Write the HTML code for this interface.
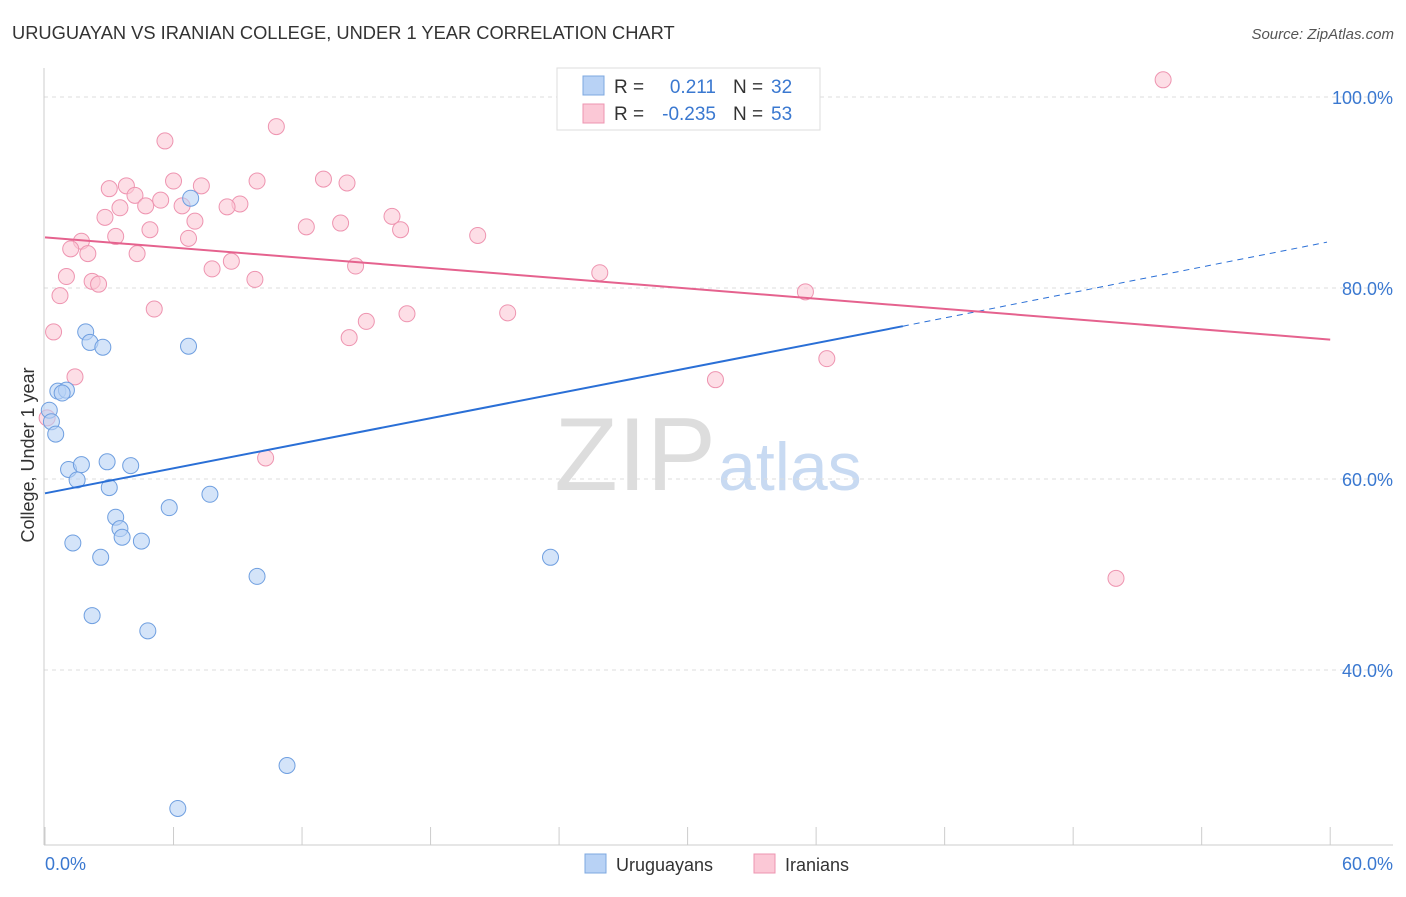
<!DOCTYPE html>
<html><head><meta charset="utf-8"><style>
body{margin:0;background:#fff;font-family:"Liberation Sans",sans-serif}
svg text{font-family:"Liberation Sans",sans-serif}
</style></head><body>
<svg id="c" width="1406" height="892" xmlns="http://www.w3.org/2000/svg">
<text x="12" y="39" font-size="18.3" fill="#333">URUGUAYAN VS IRANIAN COLLEGE, UNDER 1 YEAR CORRELATION CHART</text>
<text x="1394" y="39" font-size="15" fill="#555" font-style="italic" text-anchor="end">Source: ZipAtlas.com</text>
<text x="716" y="490" font-size="104" fill="#ddd" text-anchor="end" font-family="Liberation Serif">ZIP</text>
<text x="718" y="490" font-size="68" fill="#c8daf2">atlas</text>
<g id="grid"></g>
<line x1="44" y1="68" x2="44" y2="845" stroke="#ccc"/>
<line x1="44" y1="845" x2="1393" y2="845" stroke="#ccc"/>
<text x="34" y="455" font-size="18" fill="#333" text-anchor="middle" transform="rotate(-90 34 455)">College, Under 1 year</text>
<text x="45" y="870" font-size="18" fill="#3a78d0">0.0%</text>
<text x="1393" y="870" font-size="18" fill="#3a78d0" text-anchor="end">60.0%</text>
<g id="pts"></g>
<g id="lines"></g>
<g>
<rect x="557" y="68" width="263" height="62" fill="#fff" stroke="#ddd"/>
<rect x="583" y="76" width="21" height="19" fill="#b8d2f5" stroke="#7ea8e0"/>
<rect x="583" y="104" width="21" height="19" fill="#fbc8d6" stroke="#ee94b0"/>
<text x="614" y="93" font-size="19" fill="#333">R =</text>
<text x="716" y="93" font-size="19" fill="#3a78d0" text-anchor="end">0.211</text>
<text x="733" y="93" font-size="19" fill="#333">N =</text>
<text x="771" y="93" font-size="19" fill="#3a78d0">32</text>
<text x="614" y="120" font-size="19" fill="#333">R =</text>
<text x="716" y="120" font-size="19" fill="#3a78d0" text-anchor="end">-0.235</text>
<text x="733" y="120" font-size="19" fill="#333">N =</text>
<text x="771" y="120" font-size="19" fill="#3a78d0">53</text>
</g>
<g>
<rect x="585" y="854" width="21" height="19" fill="#b8d2f5" stroke="#7ea8e0"/>
<text x="616" y="871" font-size="18" fill="#333">Uruguayans</text>
<rect x="754" y="854" width="21" height="19" fill="#fbc8d6" stroke="#ee94b0"/>
<text x="785" y="871" font-size="18" fill="#333">Iranians</text>
</g>
</svg>
<script>
const yTicks=[100,80,60,40];
const bluePts=[[35.3,101.8],[6.8,89.4],[1.9,75.4],[2.1,74.3],[2.7,73.8],[6.7,73.9],[0.6,69.2],[1.0,69.3],[0.8,69.0],[0.2,67.2],[0.3,66.0],[0.5,64.7],[1.1,61.0],[1.7,61.5],[2.9,61.8],[4.0,61.4],[1.5,59.9],[3.0,59.1],[7.7,58.4],[5.8,57.0],[3.3,56.0],[3.5,54.8],[3.6,53.9],[4.5,53.5],[1.3,53.3],[2.6,51.8],[23.6,51.8],[9.9,49.8],[2.2,45.7],[4.8,44.1],[11.3,30.0],[6.2,25.5]];
const pinkPts=[[52.2,101.8],[10.8,96.9],[5.6,95.4],[13.0,91.4],[14.1,91.0],[6.0,91.2],[7.3,90.7],[9.9,91.2],[3.8,90.7],[3.0,90.4],[4.2,89.7],[5.4,89.2],[9.1,88.8],[8.5,88.5],[6.4,88.6],[4.7,88.6],[3.5,88.4],[2.8,87.4],[7.0,87.0],[16.2,87.5],[12.2,86.4],[13.8,86.8],[16.6,86.1],[4.9,86.1],[3.3,85.4],[6.7,85.2],[20.2,85.5],[1.7,84.9],[1.2,84.1],[2.0,83.6],[4.3,83.6],[8.7,82.8],[7.8,82.0],[14.5,82.3],[1.0,81.2],[2.2,80.7],[2.5,80.4],[9.8,80.9],[25.9,81.6],[0.7,79.2],[35.5,79.6],[5.1,77.8],[16.9,77.3],[21.6,77.4],[15.0,76.5],[0.4,75.4],[14.2,74.8],[36.5,72.6],[1.4,70.7],[31.3,70.4],[0.1,66.4],[10.3,62.2],[50.0,49.6]];
const blueLine=[[0,58.5],[40.05,76.0],[59.85,84.8]];
const pinkLine=[[0,85.3],[60,74.6]];
const X=v=>45+v*21.42, Y=v=>97+(100-v)*9.55;
const NS="http://www.w3.org/2000/svg";
const mk=(t,a,p)=>{const e=document.createElementNS(NS,t);for(const k in a)e.setAttribute(k,a[k]);document.getElementById(p).appendChild(e);return e;};
yTicks.forEach(v=>{
 const l=mk('line',{x1:44,x2:1393,y1:Y(v),y2:Y(v),stroke:'#ddd','stroke-dasharray':'4 4'},'grid');
 
 
 const t=mk('text',{x:1393,y:Y(v)+7,'font-size':18,fill:'#3a78d0','text-anchor':'end'},'grid');
 t.textContent=v.toFixed(1)+'%';
 
 
});
for(let i=0;i<=10;i++){const l=mk('line',{x1:X(i*6),x2:X(i*6),y1:827,y2:845,stroke:'#ccc'},'grid');
 
 }
pinkPts.forEach(p=>{const c=mk('circle',{cx:X(p[0]),cy:Y(p[1]),r:8,fill:'#fbc8d6','fill-opacity':0.6,stroke:'#ee94b0'},'pts');
 
 });
bluePts.forEach(p=>{const c=mk('circle',{cx:X(p[0]),cy:Y(p[1]),r:8,fill:'#b8d2f5','fill-opacity':0.6,stroke:'#6f9fe0'},'pts');
 
 });
let l=mk('line',{x1:X(blueLine[0][0]),y1:Y(blueLine[0][1]),x2:X(blueLine[1][0]),y2:Y(blueLine[1][1]),stroke:'#2a6fd6','stroke-width':2},'lines');


l=mk('line',{x1:X(blueLine[1][0]),y1:Y(blueLine[1][1]),x2:X(blueLine[2][0]),y2:Y(blueLine[2][1]),stroke:'#2a6fd6','stroke-width':1,'stroke-dasharray':'6 5'},'lines');


l=mk('line',{x1:X(pinkLine[0][0]),y1:Y(pinkLine[0][1]),x2:X(pinkLine[1][0]),y2:Y(pinkLine[1][1]),stroke:'#e5628e','stroke-width':2},'lines');


</script>
</body></html>
